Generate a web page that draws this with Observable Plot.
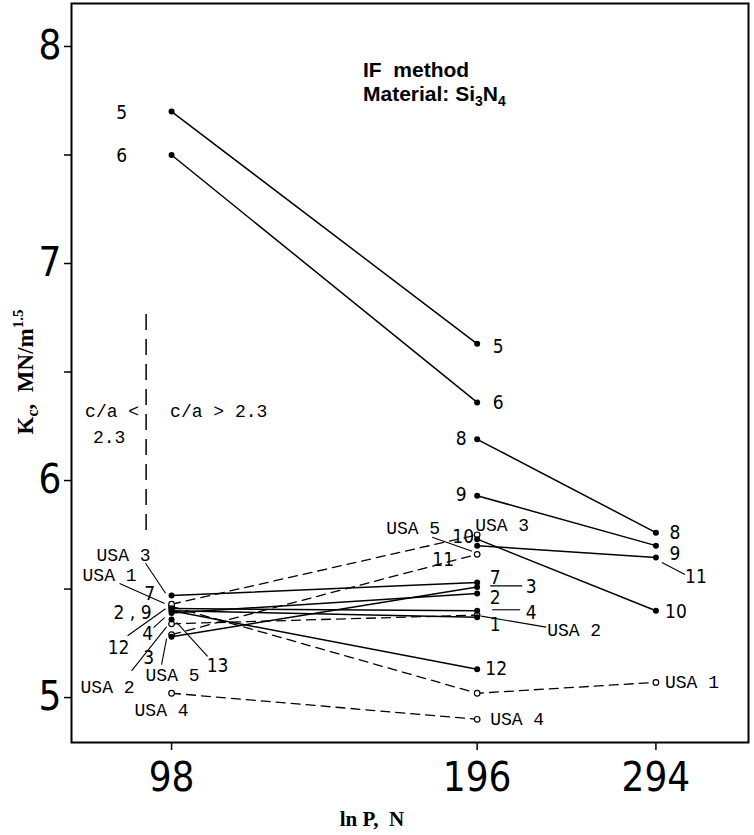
<!DOCTYPE html>
<html><head><meta charset="utf-8">
<script src="https://cdn.jsdelivr.net/npm/d3@7"></script>
<script src="https://cdn.jsdelivr.net/npm/@observablehq/plot@0.6"></script>
<style>body{margin:0;background:#fff}</style>
</head><body><div id="chart"></div>
<script>
// ---- data: K_c (MN/m^1.5) at loads P = 98, 196, 294 N (null = not measured)
const loads = [98, 196, 294];
const lab1  = [5.40, 5.37, null];
const lab2  = [5.39, 5.48, null];
const lab3  = [5.28, 5.51, null];
const lab4  = [5.41, 5.40, null];
const lab5  = [7.70, 6.63, null];
const lab6  = [7.50, 6.36, null];
const lab7  = [5.47, 5.53, null];
const lab8  = [null, 6.19, 5.76];
const lab9  = [null, 5.93, 5.70];
const lab9Low = [5.41, null, null];   // unconnected value at 98 N
const lab10 = [null, 5.73, 5.40];
const lab11 = [null, 5.70, 5.645];
const lab12 = [5.40, 5.13, null];
const lab13 = [5.36, null, null];
const usa1 = [5.42, 5.02, 5.07];
const usa2 = [5.34, 5.38, null];
const usa3 = [5.43, 5.75, null];
const usa4 = [5.02, 4.90, null];
const usa5 = [5.29, 5.66, null];
const xTicks = [98, 196, 294];
const yTicks = [5, 5.5, 6, 6.5, 7, 7.5, 8];
const yTickLabels = ["5", "", "6", "", "7", "", "8"];
const caBoundaryLoad = 92.5;
const caBoundaryK = [5.77, 6.77];
const caTextK = [6.32, 6.20];

// ---- layout
const W = 754, H = 835, ML = 71, MR = 6, MT = 3, MB = 93;
const xDomain = [78.1, 362.7], yDomain = [4.793, 8.198];
const xs = d3.scaleLog().domain(xDomain).range([ML, W - MR]);
const ys = d3.scaleLinear().domain(yDomain).range([H - MB, MT]);

const solid = {"1":lab1,"2":lab2,"3":lab3,"4":lab4,"5":lab5,"6":lab6,"7":lab7,"8":lab8,"9":lab9,"9low":lab9Low,"10":lab10,"11":lab11,"12":lab12,"13":lab13};
const dashed = {"USA 1":usa1,"USA 2":usa2,"USA 3":usa3,"USA 4":usa4,"USA 5":usa5};
const toRows = obj => Object.entries(obj).flatMap(([s, v]) => v.map((K, i) => ({s, P: loads[i], K})));
const solidRows = toRows(solid), dashedRows = toRows(dashed);
const all = {...solid, ...dashed};

// label: [text, series, load index, dx, dy, kind, leader offsets]
const labels = [
  ["5","5",0,-50,1],["6","6",0,-50,1],
  ["USA 3","USA 3",0,-48,-49,"mono",[-26,-41,-6,-11]],
  ["USA 1","USA 1",0,-62,-31,"mono",[-52,-23,-7,-3]],
  ["7","7",0,-22,-2],["2 , 9","2",0,-39,0],
  ["12","12",0,-53,37,"num",[-44,25,-6,-2]],
  ["4","4",0,-24,25,"num",[-18,19,-7,9]],
  ["3","3",0,-23,21],
  ["USA 2","USA 2",0,-64,63,"mono",[-40,47,-5,3]],
  ["USA 5","USA 5",0,1,41,"mono",[-10,30,-5,4]],
  ["13","13",0,46,46,"num",[36,37,5,3]],
  ["USA 4","USA 4",0,-10,17,"mono"],
  ["5","5",1,21,3],["6","6",1,21,0],["8","8",1,-16,0],["9","9",1,-16,-1],
  ["10","10",1,-14,-2],["USA 3","USA 3",1,25,-10,"mono"],
  ["USA 5","USA 5",1,-64,-26,"mono",[-45,-17,-5,-3]],
  ["11","11",1,-34,14],["7","7",1,18,-5],
  ["3","3",1,54,0,"num",[13,-1,45,-1]],
  ["2","2",1,18,5],
  ["4","4",1,54,2,"num",[15,-1,43,-1]],
  ["1","1",1,18,8],
  ["USA 2","USA 2",1,97,15,"mono",[4,1,69,12]],
  ["12","12",1,19,0],["USA 4","USA 4",1,40,0,"mono"],
  ["8","8",2,19,0],["9","9",2,19,8],
  ["11","11",2,40,19,"num",[6,5,29,17]],
  ["10","10",2,20,1],["USA 1","USA 1",2,36,0,"mono"]
];

const numFont = "'Liberation Sans Narrow','DejaVu Sans Condensed',sans-serif";
const monoFont = "'Liberation Mono','DejaVu Sans Mono',monospace";

const labelMarks = labels.map(([t, s, i, dx, dy, kind]) =>
  Plot.text([{P: loads[i], K: all[s][i], t}], {x: "P", y: "K", text: "t", dx, dy,
    fontFamily: kind === "mono" ? monoFont : numFont, fontSize: kind === "mono" ? 18 : 19,
    textAnchor: "middle", lineAnchor: "middle", fill: "black"}));
const leaders = labels.filter(l => l[6]).map(([t, s, i, dx, dy, kind, o]) => {
  const px = xs(loads[i]), py = ys(all[s][i]);
  return {x1: xs.invert(px + o[0]), y1: ys.invert(py + o[1]), x2: xs.invert(px + o[2]), y2: ys.invert(py + o[3])};
});

const chart = Plot.plot({
  width: W, height: H, marginLeft: ML, marginRight: MR, marginTop: MT, marginBottom: MB,
  x: {type: "log", domain: xDomain},
  y: {domain: yDomain},
  marks: [
    Plot.axisX({ticks: xTicks, tickFormat: d => String(d), tickSize: 8, tickPadding: 12,
      fontSize: 40, fontFamily: numFont, label: null, strokeWidth: 1.5}),
    Plot.axisY({ticks: yTicks, tickFormat: d => yTickLabels[yTicks.indexOf(d)], tickSize: 7, tickPadding: 3,
      fontSize: 40, fontFamily: numFont, label: null, strokeWidth: 1.5}),
    Plot.ruleX([caBoundaryLoad], {x: d => d, y1: caBoundaryK[0], y2: caBoundaryK[1], stroke: "black", strokeWidth: 1.5, strokeDasharray: "16,9"}),
    Plot.text(["c/a <"], {x: caBoundaryLoad, y: caTextK[0], text: d => d, dx: -7, textAnchor: "end", fontFamily: monoFont, fontSize: 18}),
    Plot.text(["2.3"], {x: caBoundaryLoad, y: caTextK[1], text: d => d, dx: -37, textAnchor: "middle", fontFamily: monoFont, fontSize: 18}),
    Plot.text(["c/a > 2.3"], {x: caBoundaryLoad, y: caTextK[0], text: d => d, dx: 24, textAnchor: "start", fontFamily: monoFont, fontSize: 18}),
    Plot.line(dashedRows, {x: "P", y: "K", z: "s", stroke: "black", strokeWidth: 1.3, strokeDasharray: "9,6"}),
    Plot.line(solidRows, {x: "P", y: "K", z: "s", stroke: "black", strokeWidth: 1.5}),
    Plot.link(leaders, {x1: "x1", y1: "y1", x2: "x2", y2: "y2", stroke: "black", strokeWidth: 1.1}),
    Plot.dot(dashedRows.filter(d => d.K != null), {x: "P", y: "K", r: 2.8, fill: "white", stroke: "black", strokeWidth: 1.2}),
    Plot.dot(solidRows.filter(d => d.K != null), {x: "P", y: "K", r: 3, fill: "black", stroke: "none"}),
    ...labelMarks,
    Plot.frame({stroke: "black", strokeWidth: 2})
  ]
});
document.getElementById("chart").appendChild(chart);

// titles
const svg = d3.select(chart);
const sans = "'Liberation Sans',Arial,sans-serif";
svg.append("text").attr("x", 363).attr("y", 77).attr("text-anchor", "start").attr("font-family", sans).attr("font-weight", "bold")
  .attr("font-size", 21).attr("fill", "black").attr("xml:space", "preserve").text("IF  method");
const m = svg.append("text").attr("x", 363).attr("y", 101).attr("text-anchor", "start").attr("font-family", sans).attr("font-weight", "bold")
  .attr("font-size", 21).attr("fill", "black");
m.append("tspan").text("Material: Si");
m.append("tspan").attr("font-size", 14).attr("dy", 5).text("3");
m.append("tspan").attr("dy", -5).text("N");
m.append("tspan").attr("font-size", 14).attr("dy", 5).text("4");

const serif = "'Liberation Serif','Times New Roman',serif";
const yl = svg.append("text").attr("transform", "translate(33,372) rotate(-90)").attr("text-anchor", "middle")
  .attr("font-family", serif).attr("font-weight", "bold").attr("font-size", 23).attr("fill", "black")
  .attr("xml:space", "preserve");
yl.append("tspan").text("K");
yl.append("tspan").attr("font-size", 16).attr("dy", 5).text("c");
yl.append("tspan").attr("dy", -5).text(",  MN/m");
yl.append("tspan").attr("font-size", 15).attr("dy", -10).text("1.5");

svg.append("text").attr("x", 372).attr("y", 826).attr("text-anchor", "middle").attr("font-family", serif)
  .attr("font-weight", "bold").attr("font-size", 21).attr("fill", "black").attr("xml:space", "preserve").text("ln P,  N");
</script>
</body></html>
